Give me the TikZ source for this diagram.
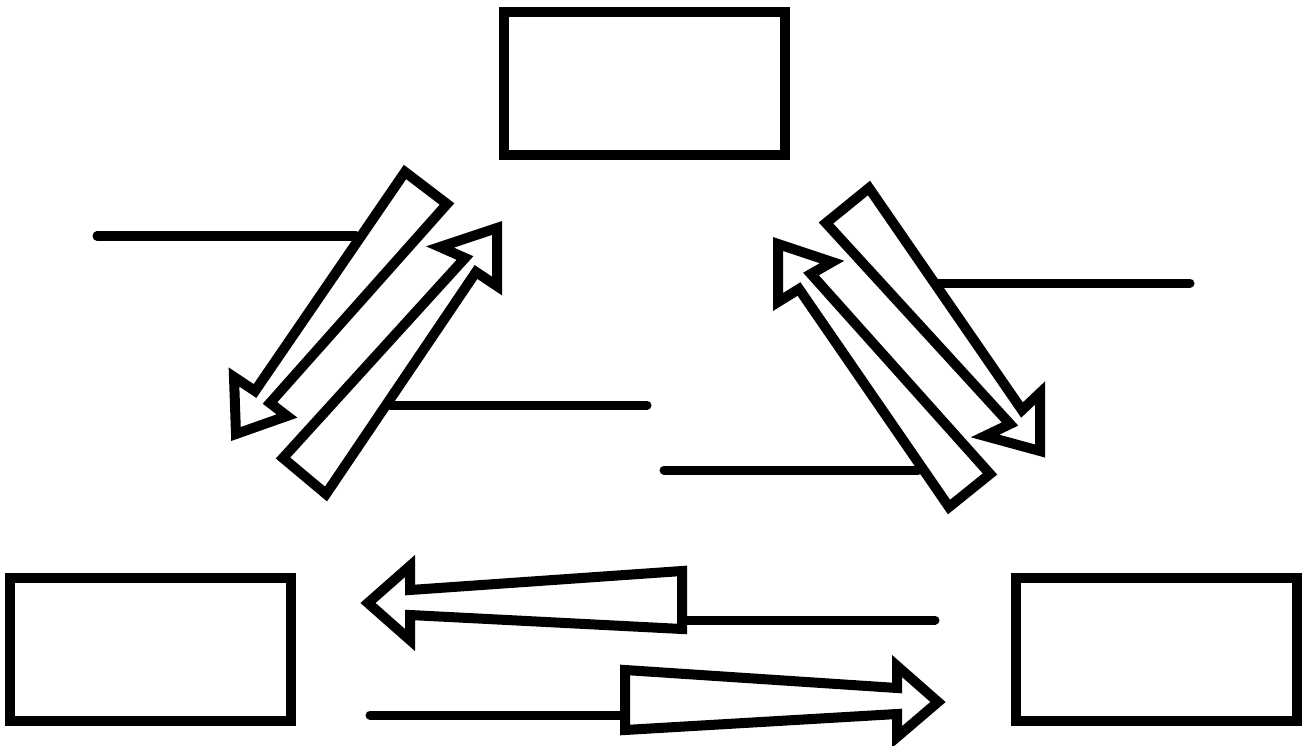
\documentclass[tikz,border=0pt]{standalone}

\begin{document}
\begin{tikzpicture}[x=1pt,y=-1pt]
 \tikzset{box/.style = {shape=rectangle,draw,line width=10pt,minimum width=281pt,minimum height=143pt,inner sep=0pt}}
 \tikzset{barrow/.style = {draw,fill=white,line width=10pt,line join=miter}}
 \tikzset{leader/.style = {draw,line width=9pt,line cap=round}}
 \useasboundingbox (0,0) rectangle (1309,746);

 % boxes
 \node[box] (top) at (644.5,83.5) {};
 \node[box] (left) at (150,649) {};
 \node[box] (right) at (1156.5,649) {};

 % label lines
 \coordinate (la) at (97,236);   \coordinate (lae) at (356,236);
 \coordinate (lb) at (390,405);  \coordinate (lbe) at (647,405);
 \coordinate (lc) at (936,283);  \coordinate (lce) at (1190,283);
 \coordinate (ld) at (664,470);  \coordinate (lde) at (918,470);
 \coordinate (le) at (680,620);  \coordinate (lee) at (935,620);
 \coordinate (lf) at (370,715);  \coordinate (lfe) at (627,715);
 \draw[leader] (la) -- (lae);
 \draw[leader] (lb) -- (lbe);
 \draw[leader] (lc) -- (lce);
 \draw[leader] (ld) -- (lde);
 \draw[leader] (le) -- (lee);
 \draw[leader] (lf) -- (lfe);

 % block arrows, left pair
 \draw[barrow] (405,172) -- (447,204) -- (270,403) -- (287,416) -- (236,434) -- (234,377) -- (255,391) -- cycle;
 \draw[barrow] (283,458) -- (465,258) -- (440,247) -- (497,228) -- (497,286) -- (476,272) -- (326,494) -- cycle;

 % block arrows, right pair
 \draw[barrow] (869,188) -- (1022,410) -- (1040,393) -- (1040,451) -- (985,436) -- (1010,424) -- (826,223) -- cycle;
 \draw[barrow] (990,474) -- (811,274) -- (832,262) -- (778,244) -- (778,302) -- (799,289) -- (949,507) -- cycle;

 % block arrows, bottom pair
 \draw[barrow] (682,571) -- (410,590) -- (410,566) -- (368,603) -- (410,640) -- (410,615) -- (682,629) -- cycle;
 \draw[barrow] (625,670) -- (897,688) -- (897,666) -- (938,702) -- (897,737) -- (897,714) -- (625,730) -- cycle;
\end{tikzpicture}
\end{document}
